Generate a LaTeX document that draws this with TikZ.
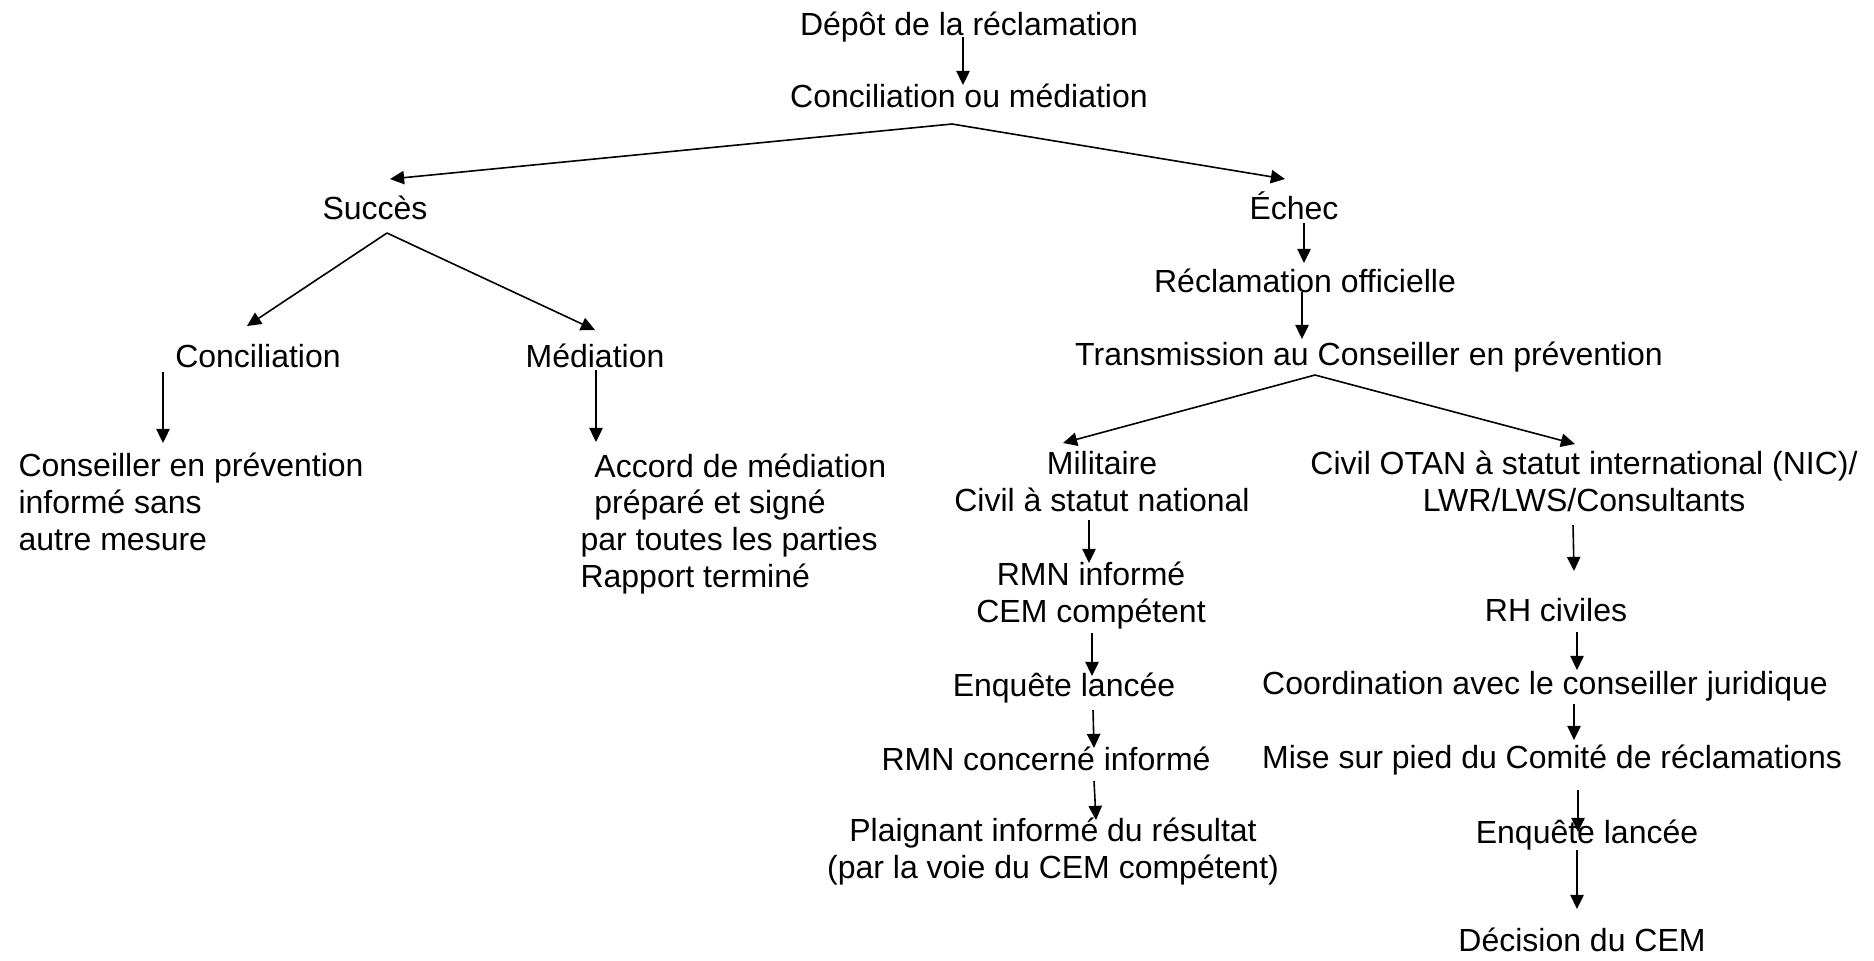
\documentclass[tikz,border=0pt]{standalone}
\usepackage{fontspec}
\setmainfont{Liberation Sans}
\usetikzlibrary{arrows.meta}

\begin{document}
\begin{tikzpicture}[x=0.375pt,y=-0.375pt,
  txt/.style={inner sep=0pt,anchor=base,align=center,font=\fontsize{12}{13.7}\selectfont},
  arr/.style={line width=0.6pt,-{Triangle[length=5.3pt,width=5pt]}}]
\useasboundingbox (0,0) rectangle (1874,960);

% top
\node[txt] (depot) at (969,35) {Dépôt de la réclamation};
\node[txt] (concmed) at (969,107) {Conciliation ou médiation};
\node[txt] (succes) at (375,219) {Succès};
\node[txt] (echec) at (1294,219) {Échec};

% left branch (base = last line)
\node[txt] (concil) at (258,367) {Conciliation};
\node[txt] (mediation) at (595,367) {Médiation};
\node[txt,anchor=base west,align=left] (conseiller) at (18,550)
  {Conseiller en prévention\\informé sans\\autre mesure};
\node[txt,anchor=base west,align=left] (accord) at (580,587)
  {\hspace*{5.2pt}Accord de médiation\\\hspace*{5.2pt}préparé et signé\\par toutes les parties\\Rapport terminé};

% right branch
\node[txt] (reclam) at (1305,292) {Réclamation officielle};
\node[txt] (transm) at (1369,365) {Transmission au Conseiller en prévention};
\node[txt] (militaire) at (1102,511) {Militaire\\Civil à statut national};
\node[txt] (civil) at (1584,511) {Civil OTAN à statut international (NIC)/\\LWR/LWS/Consultants};
\node[txt] (rmn) at (1091,622) {RMN informé\\CEM compétent};
\node[txt] (enquete) at (1064,696) {Enquête lancée};
\node[txt] (rmnconc) at (1046,770) {RMN concerné informé};
\node[txt] (plaignant) at (1053,878) {Plaignant informé du résultat\\(par la voie du CEM compétent)};
\node[txt] (rh) at (1556,621) {RH civiles};
\node[txt] (coord) at (1545,694) {Coordination avec le conseiller juridique};
\node[txt] (comite) at (1552,768) {Mise sur pied du Comité de réclamations};
\node[txt] (enquetebis) at (1587,843) {Enquête lancée};
\node[txt] (decision) at (1582,951) {Décision du CEM};

\draw[arr] ([shift={(-6,2)}]depot.base) -- ([shift={(-6,-22)}]concmed.base);
\draw[arr] ([shift={(-17,17)}]concmed.base) -- ([shift={(15,-40)}]succes.base);
\draw[arr] ([shift={(-17,17)}]concmed.base) -- ([shift={(-9,-40)}]echec.base);

\draw[arr] ([shift={(12,14)}]succes.base) -- ([shift={(-11,-41)}]concil.base);
\draw[arr] ([shift={(12,14)}]succes.base) -- ([shift={(0,-37)}]mediation.base);
\draw[arr] ([shift={(-95,5)}]concil.base) -- ([shift={(145,-107)}]conseiller.base west);
\draw[arr] ([shift={(1,3)}]mediation.base) -- ([shift={(16,-145)}]accord.base west);

\draw[arr] ([shift={(10,4)}]echec.base) -- ([shift={(-1,-29)}]reclam.base);
\draw[arr] ([shift={(-3,0)}]reclam.base) -- ([shift={(-67,-26)}]transm.base);
\draw[arr] ([shift={(-54,10)}]transm.base) -- ([shift={(-39,-68)}]militaire.base);
\draw[arr] ([shift={(-54,10)}]transm.base) -- ([shift={(-9,-67)}]civil.base);

\draw[arr] ([shift={(-13,9)}]militaire.base) -- ([shift={(-2,-59)}]rmn.base);
\draw[arr] ([shift={(1,11)}]rmn.base) -- ([shift={(28,-20)}]enquete.base);
\draw[arr] ([shift={(29,14)}]enquete.base) -- ([shift={(48,-22)}]rmnconc.base);
\draw[arr] ([shift={(48,11)}]rmnconc.base) -- ([shift={(43,-58)}]plaignant.base);

\draw[arr] ([shift={(-11,14)}]civil.base) -- ([shift={(18,-50)}]rh.base);
\draw[arr] ([shift={(21,11)}]rh.base) -- ([shift={(32,-24)}]coord.base);
\draw[arr] ([shift={(29,10)}]coord.base) -- ([shift={(22,-28)}]comite.base);
\draw[arr] ([shift={(26,22)}]comite.base) -- ([shift={(-9,-11)}]enquetebis.base);
\draw[arr] ([shift={(-10,7)}]enquetebis.base) -- ([shift={(-5,-42)}]decision.base);

\end{tikzpicture}
\end{document}
